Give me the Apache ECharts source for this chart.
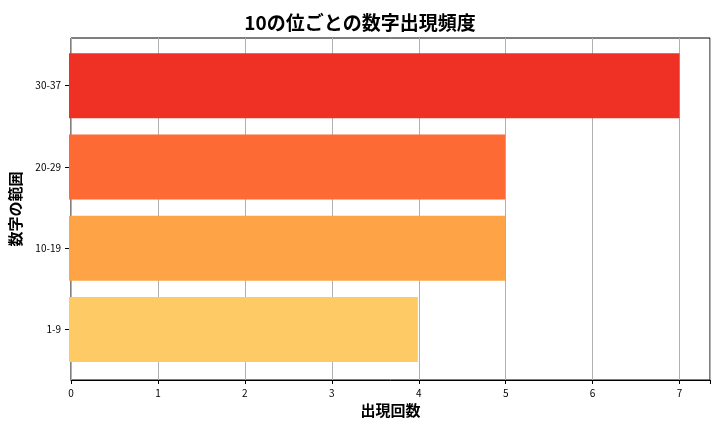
<!DOCTYPE html>
<html>
<head>
<meta charset="utf-8">
<script src="https://cdn.jsdelivr.net/npm/echarts@6/dist/echarts.min.js"></script>
</head>
<body style="margin:0">
<div id="chart" style="width:720px;height:432px"></div>
<script>
const categories = ['1-9', '10-19', '20-29', '30-37'];
const counts = [4, 5, 5, 7];
const barColors = ['#FECA66', '#FEA446', '#FD6A33', '#EE3124'];
const xTicks = [0, 1, 2, 3, 4, 5, 6, 7];

let myChart = echarts.init(document.getElementById('chart'));
let font = '"Noto Sans CJK JP", "DejaVu Sans", sans-serif';
let nameStyle = {fontFamily: font, fontSize: 15, fontWeight: 'bold', color: '#000'};
let option = {
    title: {
        text: '10の位ごとの数字出現頻度',
        left: 'center',
        top: 8,
        textStyle: {fontFamily: font, fontSize: 19, fontWeight: 'bold', color: '#000'}
    },
    grid: [
        // frame + x axis
        {left: 69, right: 10, top: 38, bottom: 52, show: true, borderColor: '#000', borderWidth: 1},
        // bars, with matplotlib-like padding
        {left: 69, right: 10, top: 45, bottom: 62}
    ],
    xAxis: [{
        gridIndex: 0,
        type: 'value',
        min: 0,
        max: 7.35,
        interval: 1,
        name: '出現回数',
        nameLocation: 'middle',
        nameGap: 22,
        nameTextStyle: nameStyle,
        axisLine: {show: true, lineStyle: {color: '#000'}},
        axisTick: {show: true, length: 4, lineStyle: {color: '#000'}},
        axisLabel: {
            fontSize: 10, color: '#000', fontFamily: font,
            formatter: v => xTicks.includes(v) ? String(v) : ''
        },
        splitLine: {show: true, lineStyle: {color: '#b0b0b0'}}
    }, {
        gridIndex: 1,
        type: 'value',
        min: 0,
        max: 7.35,
        show: false
    }],
    yAxis: [{
        gridIndex: 0,
        type: 'value',
        name: '数字の範囲',
        nameLocation: 'middle',
        nameGap: 48,
        nameTextStyle: nameStyle,
        axisLine: {show: false},
        axisTick: {show: false},
        axisLabel: {show: false},
        splitLine: {show: false}
    }, {
        gridIndex: 1,
        type: 'category',
        data: categories,
        axisLine: {show: false},
        axisTick: {show: true, alignWithLabel: true, length: 4, lineStyle: {color: '#000'}},
        axisLabel: {fontSize: 10, color: '#000', fontFamily: font},
        splitLine: {show: false}
    }],
    series: [{
        type: 'bar',
        xAxisIndex: 1,
        yAxisIndex: 1,
        data: counts.map((v, i) => ({value: v, itemStyle: {color: barColors[i]}})),
        barWidth: 65
    }]
};
myChart.setOption(option, true);
</script>
</body>
</html>
